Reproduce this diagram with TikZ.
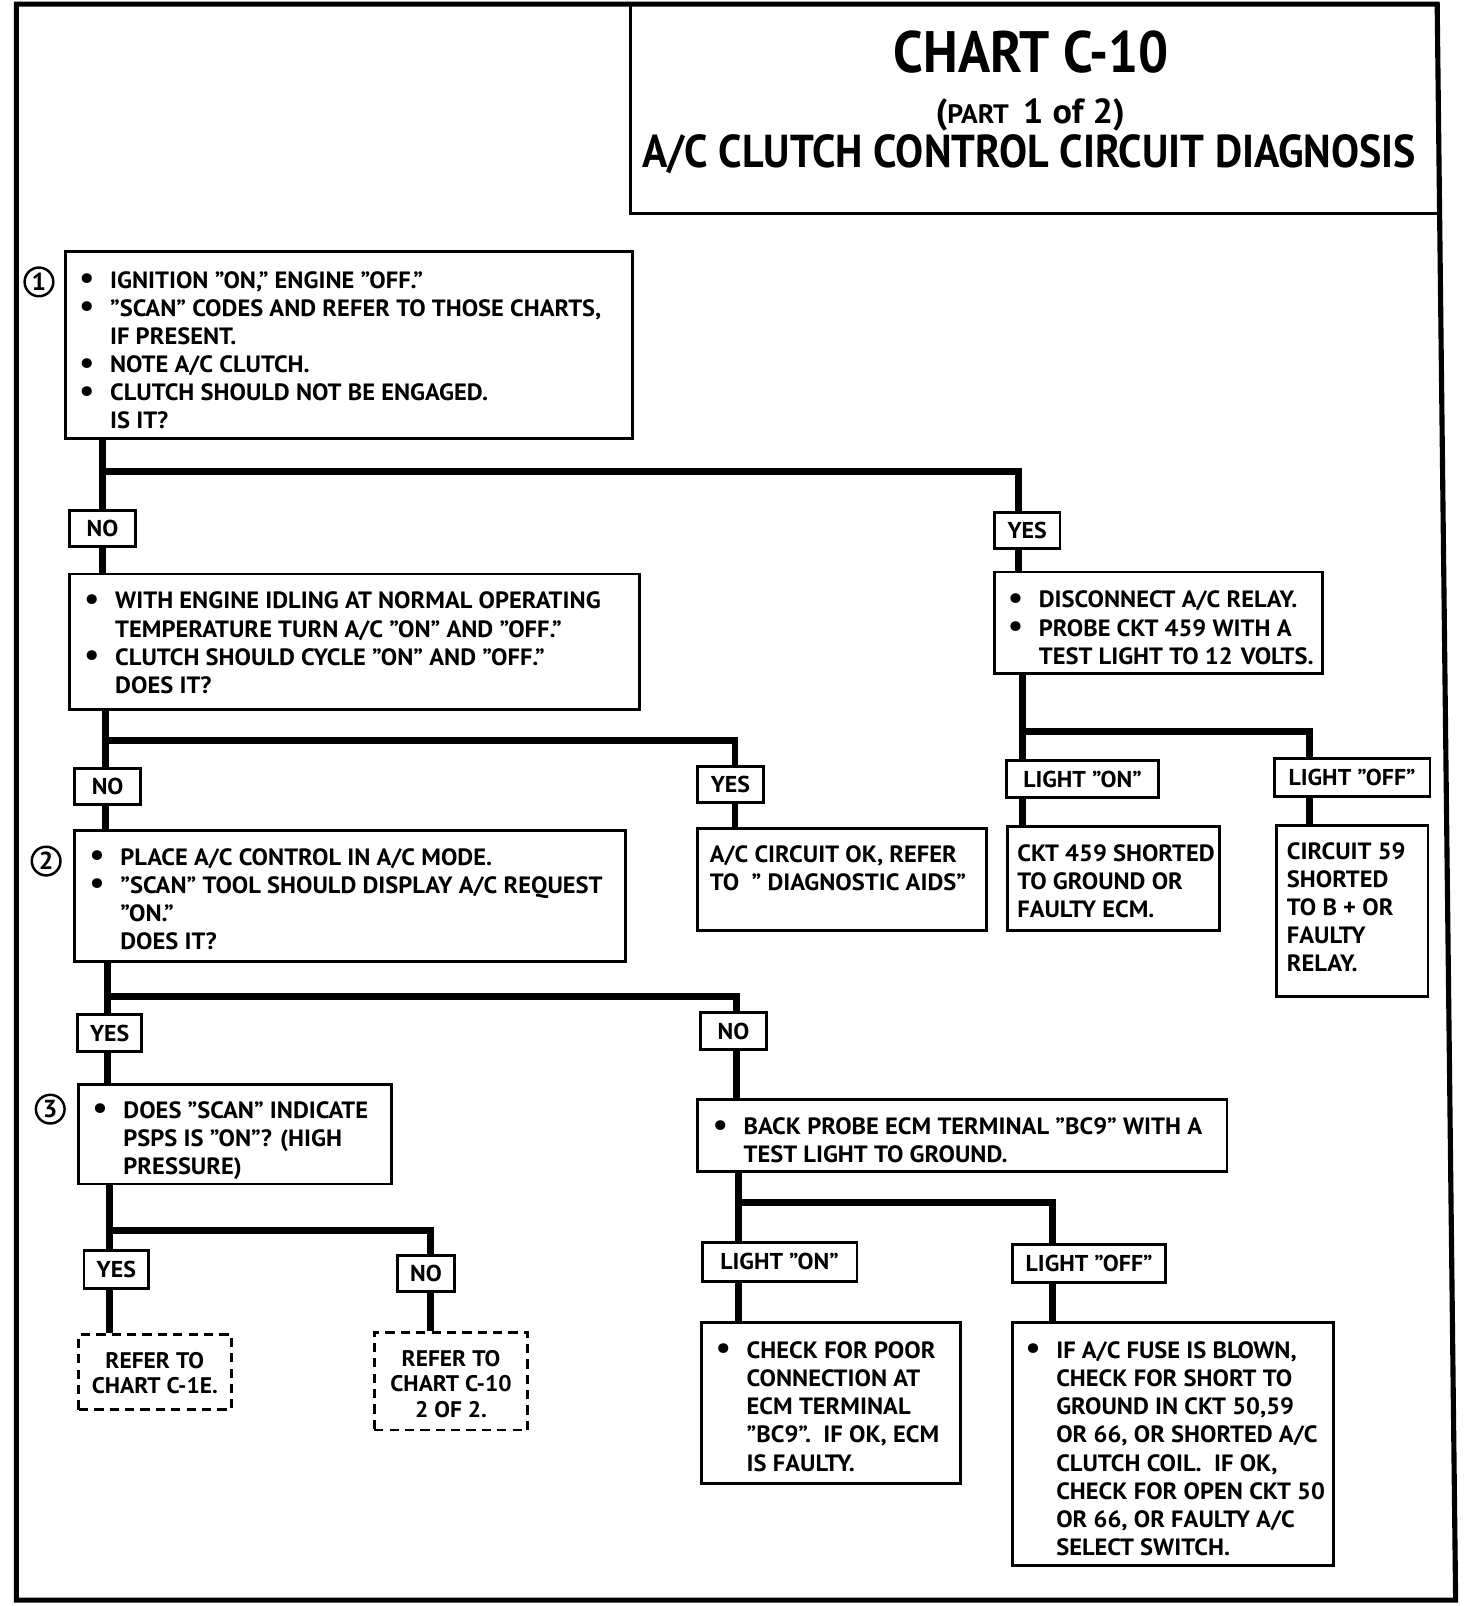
\documentclass[tikz,border=0pt]{standalone}
\usepackage{fontspec}
\usepackage{graphicx}
\setmainfont{PT Sans}[FakeStretch=1.04]
\newfontfamily\titlefont{PT Sans}[FakeStretch=0.91]
\usetikzlibrary{fit}
\newcommand{\bl}{\makebox[15pt][l]{\raisebox{-0.3pt}{\scalebox{1.35}{•}}}}
\newcommand{\ind}{\hspace*{15pt}}
\begin{document}
\begin{tikzpicture}[x=0.5pt,y=-0.5pt,
  box/.style={draw,line width=1.4pt,inner sep=0pt},
  dbox/.style={draw,line width=1.4pt,inner sep=0pt,dash pattern=on 4.5pt off 3pt},
  lbl/.style={draw,line width=1.4pt,inner sep=0pt,anchor=center,font=\bfseries\fontsize{11.2}{12}\selectfont},
  txt/.style={inner sep=0pt,anchor=base west,align=left,font=\bfseries\fontsize{11.5}{13.75}\selectfont},
  ctxt/.style={inner sep=0pt,anchor=base,align=center,font=\bfseries\fontsize{11}{12.4}\selectfont},
  conn/.style={line width=3.4pt,line join=miter},
  num/.style={draw,circle,line width=1.2pt,minimum size=14pt,inner sep=0pt,font=\bfseries\fontsize{12}{12}\selectfont}]
\useasboundingbox (0,0) rectangle (1436,1566.7);
% outer frame
\draw[line width=2.5pt,line join=miter] (16,4) -- (1402,4) -- (1420,1561) -- (16,1561) -- cycle;
% title
\node[box,fit={(615,4) (1403,208)}] (title) {};
\node[inner sep=0pt,anchor=base,font=\titlefont\bfseries\fontsize{28.5}{28.5}\selectfont] (t1) at (1006,71) {CHART C-10};
\node[inner sep=0pt,anchor=base,font=\bfseries] (t2) at (1005,120) {\fontsize{17}{17}\selectfont(\fontsize{13}{13}\selectfont PART\ \ \fontsize{17}{17}\selectfont 1 of 2)};
\node[inner sep=0pt,anchor=base,font=\titlefont\bfseries\fontsize{22.5}{22.5}\selectfont] (t3) at (1004,163) {A/C CLUTCH CONTROL CIRCUIT DIAGNOSIS};

% boxes (text nodes anchored at the baseline of their last line)
\node[box,fit={(64,245) (617,428)}] (b1) {};
\node[txt] (b1t) at (77,418.5) {\bl IGNITION "ON," ENGINE "OFF."\\
\bl "SCAN" CODES AND REFER TO THOSE CHARTS,\\
\ind IF PRESENT.\\
\bl NOTE A/C CLUTCH.\\
\bl CLUTCH SHOULD NOT BE ENGAGED.\\
\ind IS IT?};
\node[num] (n1) at (38,275) {1};

\node[box,fit={(68,560) (624,692)}] (b2) {};
\node[txt] (b2t) at (82,676.5) {\bl WITH ENGINE IDLING AT NORMAL OPERATING\\
\ind TEMPERATURE TURN A/C "ON" AND "OFF."\\
\bl CLUTCH SHOULD CYCLE "ON" AND "OFF."\\
\ind DOES IT?};

\node[box,fit={(73,810) (610,938)}] (b3) {};
\node[txt] (b3t) at (87,926.5) {\bl PLACE A/C CONTROL IN A/C MODE.\\
\bl "SCAN" TOOL SHOULD DISPLAY A/C REQUEST\\
\ind "ON."\\
\ind DOES IT?};
\node[num] (n2) at (45,840) {2};

\node[box,fit={(77,1058) (382,1155)}] (b4) {};
\node[txt] (b4t) at (90,1146) {\bl DOES "SCAN" INDICATE\\
\ind PSPS IS "ON"? (HIGH\\
\ind PRESSURE)};
\node[num] (n3) at (49,1082) {3};

\node[box,fit={(680,808) (962,908)}] (ok) {};
\node[txt] (okt) at (692,868.5) {A/C CIRCUIT OK, REFER\\
TO\ \ " DIAGNOSTIC AIDS"};

\node[box,fit={(970,558) (1290,657)}] (rel) {};
\node[txt] (relt) at (983,648) {\bl DISCONNECT A/C RELAY.\\
\bl PROBE CKT 459 WITH A\\
\ind TEST LIGHT TO 12\hspace{4pt}VOLTS.};

\node[box,fit={(983,806) (1190,908)}] (ckt) {};
\node[txt] (cktt) at (992,895) {CKT 459 SHORTED\\
TO GROUND OR\\
FAULTY ECM.};

\node[box,fit={(1245,805) (1393,972)}] (c59) {};
\node[txt] (c59t) at (1255,948) {CIRCUIT 59\\
SHORTED\\
TO B + OR\\
FAULTY\\
RELAY.};

\node[box,fit={(680,1073) (1197,1143)}] (bp) {};
\node[txt] (bpt) at (695,1134.5) {\bl BACK PROBE ECM TERMINAL "BC9" WITH A\\
\ind TEST LIGHT TO GROUND.};

\node[box,fit={(684,1290) (937,1447)}] (chk) {};
\node[txt] (chkt) at (698,1435) {\bl CHECK FOR POOR\\
\ind CONNECTION AT\\
\ind ECM TERMINAL\\
\ind "BC9".\ \ IF OK, ECM\\
\ind IS FAULTY.};

\node[box,fit={(988,1290) (1301,1527)}] (fuse) {};
\node[txt] (fuset) at (1000,1517.5) {\bl IF A/C FUSE IS BLOWN,\\
\ind CHECK FOR SHORT TO\\
\ind GROUND IN CKT 50,59\\
\ind OR 66, OR SHORTED A/C\\
\ind CLUTCH COIL.\ \ IF OK,\\
\ind CHECK FOR OPEN CKT 50\\
\ind OR 66, OR FAULTY A/C\\
\ind SELECT SWITCH.};

\node[dbox,fit={(77,1302) (226,1375)}] (d1) {};
\node[ctxt] (d1t) at (151,1359.8) {REFER TO\\CHART C-1E.};
\node[dbox,fit={(365,1300) (515,1395)}] (d2) {};
\node[ctxt] (d2t) at (440,1382.6) {REFER TO\\CHART C-10\\2 OF 2.};

% labels
\node[lbl,minimum width=32pt,minimum height=17.5pt] (no1) at (100,515.5) {NO};
\node[lbl,minimum width=32pt,minimum height=17.5pt] (yes1) at (1002,517.5) {YES};
\node[lbl,minimum width=32pt,minimum height=17.5pt] (no2) at (105,767.5) {NO};
\node[lbl,minimum width=32.5pt,minimum height=17.5pt] (yes2) at (712.5,765.5) {YES};
\node[lbl,minimum width=74pt,minimum height=18pt] (lon1) at (1056,760) {LIGHT "ON"};
\node[lbl,minimum width=76pt,minimum height=18.5pt] (loff1) at (1319,758.5) {LIGHT "OFF"};
\node[lbl,minimum width=31pt,minimum height=18pt] (yes3) at (107,1008) {YES};
\node[lbl,minimum width=32.5pt,minimum height=18pt] (no3) at (715.5,1006) {NO};
\node[lbl,minimum width=31.5pt,minimum height=18.5pt] (yes4) at (113.5,1238.5) {YES};
\node[lbl,minimum width=27.5pt,minimum height=17.5pt] (no4) at (415.5,1242.5) {NO};
\node[lbl,minimum width=75.5pt,minimum height=19pt] (lon2) at (760.5,1231) {LIGHT "ON"};
\node[lbl,minimum width=74.5pt,minimum height=18.5pt] (loff2) at (1062.5,1232.5) {LIGHT "OFF"};

% junction coordinates
\coordinate (j1) at (100,460);   \coordinate (j1r) at (994,460);
\coordinate (j2) at (103,722);   \coordinate (j2r) at (717,722);
\coordinate (j3) at (997,714);   \coordinate (j3r) at (1277,714);
\coordinate (j4) at (105,972);   \coordinate (j4r) at (718,972);
\coordinate (j5) at (107,1200);  \coordinate (j5r) at (420,1200);
\coordinate (j6) at (720,1173);  \coordinate (j6r) at (1027,1173);

% connectors
\draw[conn] (j1 |- b1.south) -- (j1 |- no1.north);
\draw[conn] (j1 |- no1.south) -- (j1 |- b2.north);
\draw[conn] (j1) -- (j1r) -- (j1r |- yes1.north);
\draw[conn] (j1r |- yes1.south) -- (j1r |- rel.north);

\draw[conn] (j2 |- b2.south) -- (j2 |- no2.north);
\draw[conn] (j2 |- no2.south) -- (j2 |- b3.north);
\draw[conn] (j2) -- (j2r) -- (j2r |- yes2.north);
\draw[conn] (j2r |- yes2.south) -- (j2r |- ok.north);

\draw[conn] (j3 |- rel.south) -- (j3 |- lon1.north);
\draw[conn] (j3 |- lon1.south) -- (j3 |- ckt.north);
\draw[conn] (j3) -- (j3r) -- (j3r |- loff1.north);
\draw[conn] (j3r |- loff1.south) -- (j3r |- c59.north);

\draw[conn] (j4 |- b3.south) -- (j4 |- yes3.north);
\draw[conn] (j4 |- yes3.south) -- (j4 |- b4.north);
\draw[conn] (j4) -- (j4r) -- (j4r |- no3.north);
\draw[conn] (j4r |- no3.south) -- (j4r |- bp.north);

\draw[conn] (j5 |- b4.south) -- (j5 |- yes4.north);
\draw[conn] (j5 |- yes4.south) -- (j5 |- d1.north);
\draw[conn] (j5) -- (j5r) -- (j5r |- no4.north);
\draw[conn] (j5r |- no4.south) -- (j5r |- d2.north);

\draw[conn] (j6 |- bp.south) -- (j6 |- lon2.north);
\draw[conn] (j6 |- lon2.south) -- (j6 |- chk.north);
\draw[conn] (j6) -- (j6r) -- (j6r |- loff2.north);
\draw[conn] (j6r |- loff2.south) -- (j6r |- fuse.north);
\end{tikzpicture}
\end{document}
